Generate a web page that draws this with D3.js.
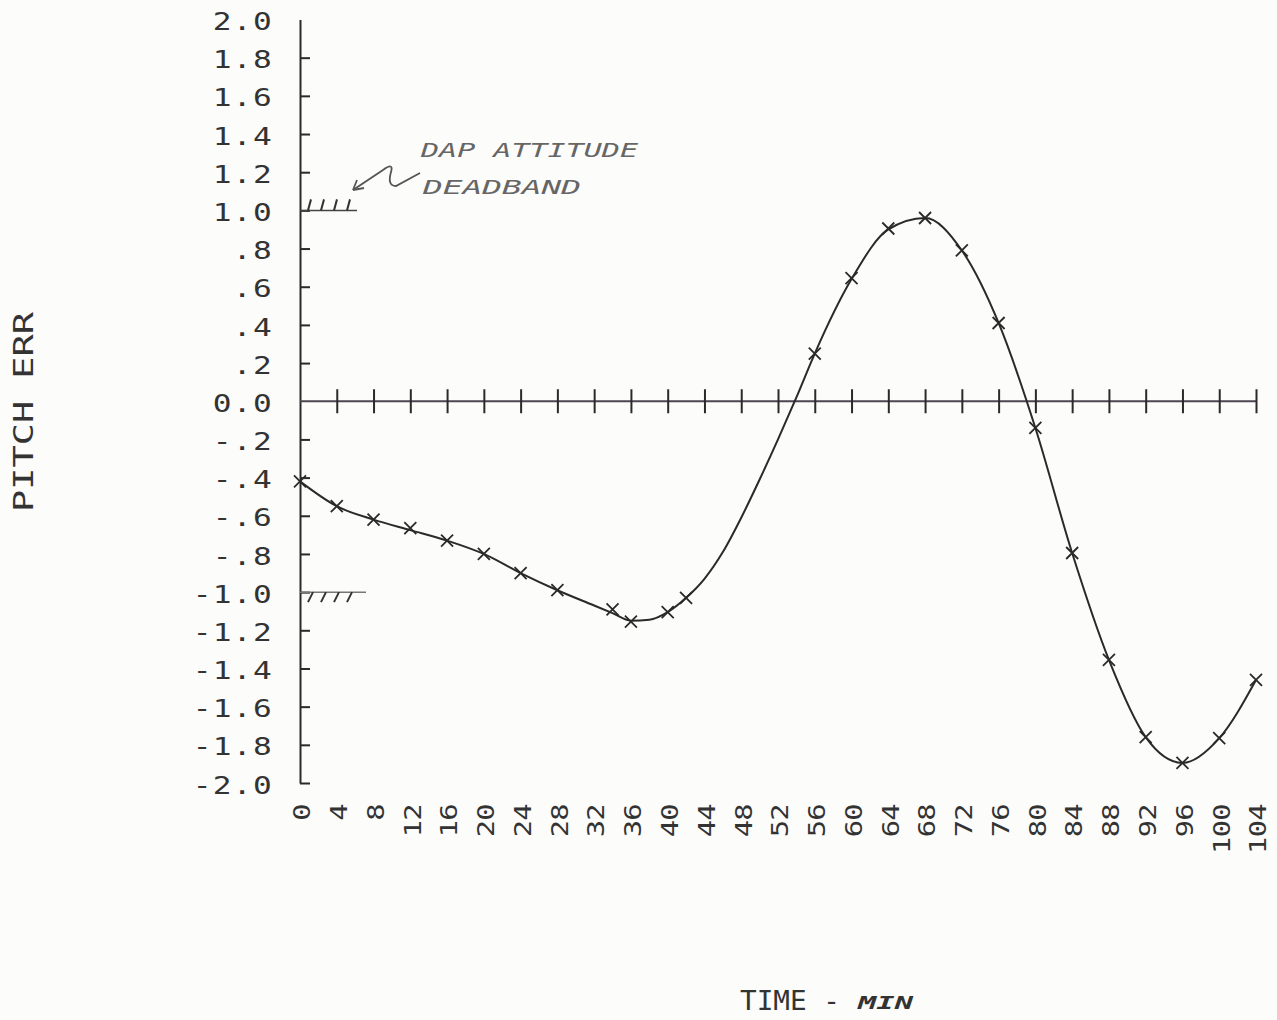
<!DOCTYPE html>
<html>
<head>
<meta charset="utf-8">
<script src="https://cdn.jsdelivr.net/npm/d3@7"></script>
<style>
  body { margin: 0; background: #fcfcfa; }
  svg { display: block; }
  text { font-family: "DejaVu Sans Mono", "Liberation Mono", monospace; fill: #333; }
</style>
</head>
<body>
<div id="chart"></div>
<script>
// Axis ticks and labels
const yTicks = [2.0, 1.8, 1.6, 1.4, 1.2, 1.0, 0.8, 0.6, 0.4, 0.2, 0.0,
  -0.2, -0.4, -0.6, -0.8, -1.0, -1.2, -1.4, -1.6, -1.8, -2.0];
const yTickLabels = ["2.0", "1.8", "1.6", "1.4", "1.2", "1.0", ".8", ".6", ".4", ".2", "0.0",
  "-.2", "-.4", "-.6", "-.8", "-1.0", "-1.2", "-1.4", "-1.6", "-1.8", "-2.0"];
const xTicks = [0, 4, 8, 12, 16, 20, 24, 28, 32, 36, 40, 44, 48, 52,
  56, 60, 64, 68, 72, 76, 80, 84, 88, 92, 96, 100, 104];
const xTickLabels = ["0", "4", "8", "12", "16", "20", "24", "28", "32", "36", "40", "44", "48", "52",
  "56", "60", "64", "68", "72", "76", "80", "84", "88", "92", "96", "100", "104"];

// Plotted points (marked with x)
const markTimes = [0, 4, 8, 12, 16, 20, 24, 28, 34, 36, 40, 42,
  56, 60, 64, 68, 72, 76, 80, 84, 88, 92, 96, 100, 104];
const markValues = [-0.42, -0.55, -0.62, -0.665, -0.73, -0.80, -0.90, -0.99, -1.09, -1.155, -1.105, -1.03,
  0.25, 0.645, 0.905, 0.96, 0.79, 0.41, -0.14, -0.795, -1.355, -1.76, -1.895, -1.765, -1.46];

// Curve through the points (extra readings where no marker is drawn)
const curveTimes = [0, 4, 8, 12, 16, 20, 24, 28, 32, 34, 36, 38, 40, 42, 44, 46, 48, 50, 52, 54,
  56, 60, 64, 68, 72, 76, 80, 84, 88, 92, 96, 100, 104];
const curveValues = [-0.42, -0.55, -0.62, -0.675, -0.73, -0.80, -0.90, -0.99, -1.07, -1.11, -1.15, -1.145, -1.105, -1.03,
  -0.93, -0.79, -0.61, -0.41, -0.20, 0.02,
  0.25, 0.64, 0.90, 0.96, 0.79, 0.41, -0.14, -0.795, -1.355, -1.76, -1.895, -1.765, -1.46];

const deadband = [1.0, -1.0];

const width = 1277, height = 1020;
const svg = d3.select("#chart").append("svg")
  .attr("width", width)
  .attr("height", height);

const x = d3.scaleLinear().domain([0, 104]).range([300, 1256]);
const y = d3.scaleLinear().domain([-2, 2]).range([783, 19.5]);
const ink = "#2a2a2a";

// y axis line + inner ticks
const yAxis = d3.axisRight(y)
  .tickValues(yTicks.filter(d => d !== 0 && d !== 2))
  .tickSize(10)
  .tickSizeOuter(0)
  .tickFormat("");
const gy = svg.append("g")
  .attr("transform", "translate(300,0)")
  .call(yAxis);
gy.selectAll("path, line").attr("stroke", ink).attr("stroke-width", 2);

// y labels
svg.append("g").selectAll("g")
  .data(yTicks)
  .join("g")
  .attr("transform", d => "translate(273," + (y(d) + 2) + ")")
  .append("text")
  .attr("transform", "scale(1.3,1)")
  .attr("text-anchor", "end")
  .attr("dy", "0.36em")
  .style("font-size", "24px")
  .style("letter-spacing", "1px")
  .text((d, i) => yTickLabels[i]);

// zero line with ticks
svg.append("line")
  .attr("x1", x(0)).attr("x2", x(104))
  .attr("y1", y(0)).attr("y2", y(0))
  .attr("stroke", "#4d4550").attr("stroke-width", 2);
const xAxis = d3.axisBottom(x)
  .tickValues(xTicks.filter(d => d !== 0))
  .tickSize(24)
  .tickSizeOuter(0)
  .tickFormat("");
const gx = svg.append("g")
  .attr("transform", "translate(0," + (y(0) - 12) + ")")
  .call(xAxis);
gx.select(".domain").remove();
gx.selectAll("line").attr("stroke", ink).attr("stroke-width", 2);

// x labels, rotated
svg.append("g").selectAll("g")
  .data(xTicks)
  .join("g")
  .attr("transform", d => "translate(" + (x(d) + 2) + ",804) rotate(-90)")
  .append("text")
  .attr("transform", "scale(1.25,1)")
  .attr("text-anchor", "end")
  .attr("dy", "0.36em")
  .style("font-size", "23px")
  .style("letter-spacing", "-0.5px")
  .text((d, i) => xTickLabels[i]);

// deadband marks
deadband.forEach(v => {
  const yy = y(v);
  const up = v > 0;
  svg.append("line")
    .attr("x1", 300).attr("x2", up ? 357 : 366)
    .attr("y1", yy).attr("y2", yy)
    .attr("stroke", up ? "#444" : "#777").attr("stroke-width", 1.5);
  [0, 1, 2, 3].forEach(k => {
    const hx = 308 + k * 13;
    svg.append("line")
      .attr("x1", hx).attr("x2", hx + (up ? 3 : 5))
      .attr("y1", up ? yy : yy + 10).attr("y2", up ? yy - 11 : yy)
      .attr("stroke", "#333").attr("stroke-width", 2);
  });
});

// annotation
svg.append("path")
  .attr("d", "M353,190 L383,170 Q394,162 391,172 Q387,186 396,186 L420,173")
  .attr("fill", "none").attr("stroke", "#555").attr("stroke-width", 1.8);
svg.append("path")
  .attr("d", "M353,190 L357,180 M353,190 L364,188")
  .attr("fill", "none").attr("stroke", "#555").attr("stroke-width", 1.8);
svg.append("text")
  .attr("x", 421).attr("y", 157)
  .attr("textLength", 217).attr("lengthAdjust", "spacingAndGlyphs")
  .style("font-size", "20px").style("font-style", "italic").style("fill", "#666")
  .text("DAP ATTITUDE");
svg.append("text")
  .attr("x", 423).attr("y", 194)
  .attr("textLength", 158).attr("lengthAdjust", "spacingAndGlyphs")
  .style("font-size", "20px").style("font-style", "italic").style("fill", "#666")
  .text("DEADBAND");

// curve
const curvePts = curveTimes.map((t, i) => [t, curveValues[i]]);
svg.append("path")
  .datum(curvePts)
  .attr("fill", "none")
  .attr("stroke", ink)
  .attr("stroke-width", 2)
  .attr("d", d3.line().x(d => x(d[0])).y(d => y(d[1])).curve(d3.curveMonotoneX));

// x markers
const marks = markTimes.map((t, i) => [t, markValues[i]]);
svg.append("g").selectAll("path")
  .data(marks)
  .join("path")
  .attr("transform", d => "translate(" + x(d[0]) + "," + y(d[1]) + ")")
  .attr("d", "M-6,-6 L6,6 M-6,6 L6,-6")
  .attr("stroke", ink)
  .attr("stroke-width", 1.8)
  .attr("fill", "none");

// axis titles
svg.append("text")
  .attr("transform", "translate(33,412) rotate(-90)")
  .attr("text-anchor", "middle")
  .attr("textLength", 200).attr("lengthAdjust", "spacingAndGlyphs")
  .style("font-size", "26px")
  .text("PITCH ERR");
svg.append("text")
  .attr("x", 740).attr("y", 1010)
  .attr("textLength", 100).attr("lengthAdjust", "spacingAndGlyphs")
  .style("font-size", "27px")
  .text("TIME -");
svg.append("text")
  .attr("x", 858).attr("y", 1009)
  .attr("textLength", 55).attr("lengthAdjust", "spacingAndGlyphs")
  .style("font-size", "17px").style("font-style", "italic").style("font-weight", "bold")
  .text("MIN");
</script>
</body>
</html>
